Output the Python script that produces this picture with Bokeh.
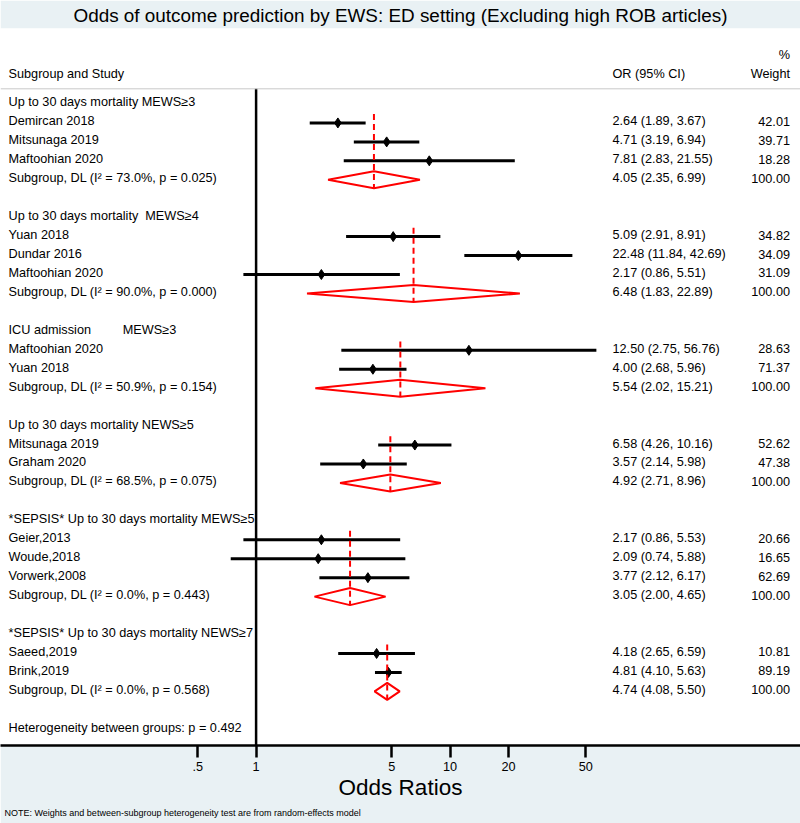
from bokeh.plotting import figure
from bokeh.models import Range1d, FixedTicker, LabelSet, ColumnDataSource, Span, Title
from bokeh.core.properties import value
from bokeh.embed import file_html
from bokeh.resources import INLINE

# ---------------- data ----------------
title_text = "Odds of outcome prediction by EWS: ED setting (Excluding high ROB articles)"
group_titles = [
    "Up to 30 days mortality MEWS\u22653",
    "Up to 30 days mortality\u00a0 MEWS\u22654",
    "ICU admission\u00a0\u00a0\u00a0\u00a0\u00a0\u00a0\u00a0\u00a0 MEWS\u22653",
    "Up to 30 days mortality NEWS\u22655",
    "*SEPSIS* Up to 30 days mortality MEWS\u22655",
    "*SEPSIS* Up to 30 days mortality NEWS\u22657",
]
study_group = [0, 0, 0, 1, 1, 1, 2, 2, 3, 3, 4, 4, 4, 5, 5]
study_names = ["Demircan 2018", "Mitsunaga 2019", "Maftoohian 2020",
               "Yuan 2018", "Dundar 2016", "Maftoohian 2020",
               "Maftoohian 2020", "Yuan 2018",
               "Mitsunaga 2019", "Graham 2020",
               "Geier,2013", "Woude,2018", "Vorwerk,2008",
               "Saeed,2019", "Brink,2019"]
study_or = [2.64, 4.71, 7.81, 5.09, 22.48, 2.17, 12.50, 4.00, 6.58, 3.57, 2.17, 2.09, 3.77, 4.18, 4.81]
study_lo = [1.89, 3.19, 2.83, 2.91, 11.84, 0.86, 2.75, 2.68, 4.26, 2.14, 0.86, 0.74, 2.12, 2.65, 4.10]
study_hi = [3.67, 6.94, 21.55, 8.91, 42.69, 5.51, 56.76, 5.96, 10.16, 5.98, 5.53, 5.88, 6.17, 6.59, 5.63]
study_wt = [42.01, 39.71, 18.28, 34.82, 34.09, 31.09, 28.63, 71.37, 52.62, 47.38, 20.66, 16.65, 62.69, 10.81, 89.19]

sub_i2 = [73.0, 90.0, 50.9, 68.5, 0.0, 0.0]
sub_p = [0.025, 0.000, 0.154, 0.075, 0.443, 0.568]
sub_or = [4.05, 6.48, 5.54, 4.92, 3.05, 4.74]
sub_lo = [2.35, 1.83, 2.02, 2.71, 2.00, 4.08]
sub_hi = [6.99, 22.89, 15.21, 8.96, 4.65, 5.50]
sub_wt = [100.00, 100.00, 100.00, 100.00, 100.00, 100.00]
het_p = 0.492

tick_values = [0.5, 1, 5, 10, 20, 50]
tick_labels = [".5", "1", "5", "10", "20", "50"]

note_text = "NOTE: Weights and between-subgroup heterogeneity test are from random-effects model"

# ---------------- layout ----------------
FONT = "Liberation Sans"
BG = "#e9f1f4"
W, H = 800, 823
TOP, BOTTOM = 26, 78
LOG_LO, LOG_HI = -1.3175, 2.8062
Y_TOP, Y_BOT = -3.984, 33.858
RULE_Y = -0.8
FS = "12.7px"

# row positions
header_rows, study_rows, sub_rows, first_rows = [], [], [], []
r = 0
for g in range(len(group_titles)):
    header_rows.append(r)
    r += 1
    first_rows.append(r)
    for sg in study_group:
        if sg == g:
            study_rows.append(r)
            r += 1
    sub_rows.append(r)
    r += 2
het_row = r

p = figure(width=W, height=H, x_axis_type="log",
           x_range=Range1d(10 ** LOG_LO, 10 ** LOG_HI),
           y_range=Range1d(Y_BOT, Y_TOP),
           y_axis_location=None,
           output_backend="svg", toolbar_location=None,
           min_border_left=0, min_border_right=0,
           min_border_top=TOP, min_border_bottom=BOTTOM)
p.title.text = title_text
p.title.align = "center"
p.title.text_font = FONT
p.title.text_font_size = "18.9px"
p.title.text_font_style = "normal"
p.title.text_color = "black"
p.title.standoff = 5
p.background_fill_color = "white"
p.border_fill_color = BG
p.outline_line_color = None
p.xgrid.visible = False
p.ygrid.visible = False

ax = p.xaxis[0]
ax.ticker = FixedTicker(ticks=tick_values)
ax.major_label_overrides = {v: l for v, l in zip(tick_values, tick_labels)}
ax.axis_line_width = 2.5
ax.axis_line_color = "black"
ax.major_tick_line_width = 2.5
ax.major_tick_line_color = "black"
ax.major_tick_out = 12
ax.major_tick_in = 0
ax.minor_tick_line_color = None
ax.major_label_standoff = 4
ax.major_label_text_font = FONT
ax.major_label_text_font_size = "12.7px"
ax.major_label_text_color = "black"
ax.axis_label = "Odds Ratios"
ax.axis_label_text_font = FONT
ax.axis_label_text_font_size = "22.5px"
ax.axis_label_text_font_style = "normal"
ax.axis_label_text_color = "black"
ax.axis_label_standoff = 1

# horizontal header rule
p.add_layout(Span(location=RULE_Y, dimension="width", line_color="#c8c8c8", line_width=1))

# null line
p.segment(x0=[1], x1=[1], y0=[RULE_Y], y1=[Y_BOT], line_color="black", line_width=2.5)

# study CIs and points
ssrc = ColumnDataSource(dict(lo=study_lo, hi=study_hi, est=study_or, y=study_rows))
p.segment(x0="lo", x1="hi", y0="y", y1="y", source=ssrc, line_color="black", line_width=3)
p.scatter(x="est", y="y", source=ssrc, marker="diamond", size=10, color="black")

# subgroup dashed lines and diamonds
dash_y0 = [fr - 0.47 for fr in first_rows]
dash_y1 = [sr + 0.45 for sr in sub_rows]
p.segment(x0=sub_or, x1=sub_or, y0=dash_y0, y1=dash_y1, line_color="red", line_width=2, line_dash="6 4")
dx = [[lo, est, hi, est] for lo, est, hi in zip(sub_lo, sub_or, sub_hi)]
dy = [[sr, sr - 0.45, sr, sr + 0.45] for sr in sub_rows]
p.patches(xs=dx, ys=dy, fill_color=None, line_color="red", line_width=2)


def add_labels(xs, ys, texts, align, size=FS):
    src = ColumnDataSource(dict(x=xs, y=ys, t=texts))
    p.add_layout(LabelSet(x="x", y="y", text="t", source=src, x_units="screen", y_units="data",
                          text_align=align, text_baseline="middle", text_font=value(FONT),
                          text_font_size=value(size), text_color="black"))


X_LEFT, X_OR, X_WT = 8.0, 612.0, 789.5
HDR1, HDR2 = -1.5, -2.5

left_texts = list(group_titles) + list(study_names) + \
    ["Subgroup, DL (I\u00b2 = %.1f%%, p = %.3f)" % (i2, pv) for i2, pv in zip(sub_i2, sub_p)] + \
    ["Heterogeneity between groups: p = %.3f" % het_p, "Subgroup and Study"]
left_rows = header_rows + study_rows + sub_rows + [het_row, HDR1]
add_labels([X_LEFT] * len(left_texts), [y - 0.08 for y in left_rows], left_texts, "left")

or_texts = ["%.2f (%.2f, %.2f)" % t for t in zip(study_or, study_lo, study_hi)] + \
    ["%.2f (%.2f, %.2f)" % t for t in zip(sub_or, sub_lo, sub_hi)] + ["OR (95% CI)"]
or_rows = study_rows + sub_rows + [HDR1]
add_labels([X_OR] * len(or_texts), [y - 0.08 for y in or_rows], or_texts, "left")

wt_texts = ["%.2f" % w for w in study_wt] + ["%.2f" % w for w in sub_wt] + ["Weight", "%"]
wt_rows = study_rows + sub_rows + [HDR1, HDR2]
add_labels([X_WT] * len(wt_texts), [y - 0.08 for y in wt_rows], wt_texts, "right")

note = Title(text=note_text, align="left", text_font=FONT, text_font_size="9px",
             text_font_style="normal", text_color="black", offset=4, standoff=6)
p.add_layout(note, "below")

open("out.html", "w").write(file_html(p, INLINE))
